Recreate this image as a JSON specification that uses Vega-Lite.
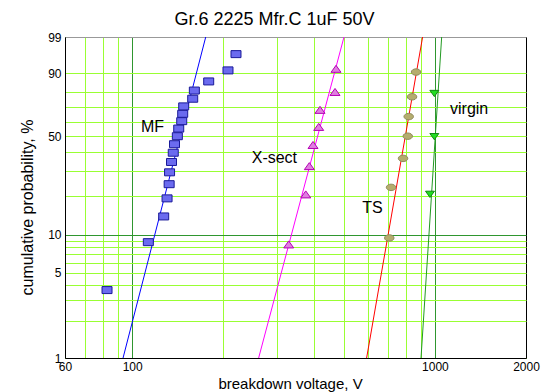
{
  "$schema": "https://vega.github.io/schema/vega-lite/v6.json",
  "width": 461,
  "height": 321,
  "autosize": "none",
  "padding": {"left": 65, "top": 37, "right": 15, "bottom": 34},
  "background": "white",
  "title": {"text": "Gr.6 2225 Mfr.C 1uF 50V", "fontSize": 18, "font": "Liberation Sans", "fontWeight": "normal", "anchor": "middle", "frame": "group", "dx": -21, "offset": -12, "baseline": "alphabetic", "color": "#000000"},
  "config": {"view": {"stroke": "#000000", "strokeWidth": 1}, "font": "Liberation Sans"},
  "datasets": {
    "fits": [
      {"series": "MF", "v": 93.3, "p": 1},
      {"series": "MF", "v": 175.0, "p": 99},
      {"series": "X-sect", "v": 261.7, "p": 1},
      {"series": "X-sect", "v": 501, "p": 99},
      {"series": "TS", "v": 595, "p": 1},
      {"series": "TS", "v": 911, "p": 99},
      {"series": "virgin", "v": 900, "p": 1},
      {"series": "virgin", "v": 1053, "p": 99}
    ],
    "pts": [
      {"series": "MF", "v": 82.6, "p": 3.608},
      {"series": "MF", "v": 113.1, "p": 8.763},
      {"series": "MF", "v": 127.1, "p": 13.918},
      {"series": "MF", "v": 130.4, "p": 19.072},
      {"series": "MF", "v": 132.5, "p": 24.227},
      {"series": "MF", "v": 132.9, "p": 29.381},
      {"series": "MF", "v": 134.9, "p": 34.536},
      {"series": "MF", "v": 136.7, "p": 39.691},
      {"series": "MF", "v": 138.0, "p": 44.845},
      {"series": "MF", "v": 141.0, "p": 50.0},
      {"series": "MF", "v": 142.5, "p": 55.155},
      {"series": "MF", "v": 145.8, "p": 60.309},
      {"series": "MF", "v": 146.9, "p": 65.464},
      {"series": "MF", "v": 148.0, "p": 70.619},
      {"series": "MF", "v": 158.5, "p": 75.773},
      {"series": "MF", "v": 160.5, "p": 80.928},
      {"series": "MF", "v": 179.0, "p": 86.082},
      {"series": "MF", "v": 207.3, "p": 91.237},
      {"series": "MF", "v": 220.3, "p": 96.392},
      {"series": "X-sect", "v": 329, "p": 8.333},
      {"series": "X-sect", "v": 374.5, "p": 20.238},
      {"series": "X-sect", "v": 384.8, "p": 32.143},
      {"series": "X-sect", "v": 395.8, "p": 44.048},
      {"series": "X-sect", "v": 413.3, "p": 55.952},
      {"series": "X-sect", "v": 417.4, "p": 67.857},
      {"series": "X-sect", "v": 467.9, "p": 79.762},
      {"series": "X-sect", "v": 471.5, "p": 91.667},
      {"series": "TS", "v": 707, "p": 9.459},
      {"series": "TS", "v": 716.5, "p": 22.973},
      {"series": "TS", "v": 785, "p": 36.486},
      {"series": "TS", "v": 813.6, "p": 50.0},
      {"series": "TS", "v": 819.6, "p": 63.514},
      {"series": "TS", "v": 840.6, "p": 77.027},
      {"series": "TS", "v": 866.5, "p": 90.541},
      {"series": "virgin", "v": 963.5, "p": 20.588},
      {"series": "virgin", "v": 996, "p": 50.0},
      {"series": "virgin", "v": 996, "p": 79.412}
    ],
    "labels": [
      {"label": "MF", "v": 106.9, "p": 56.4},
      {"label": "X-sect", "v": 248.3, "p": 36.5},
      {"label": "TS", "v": 575.8, "p": 16.05},
      {"label": "virgin", "v": 1122, "p": 68.8}
    ]
  },
  "layer": [
    {
      "data": {"name": "fits"},
      "transform": [{"calculate": "log(-log(1 - datum.p / 100))", "as": "w"}],
      "mark": {"type": "line", "strokeWidth": 1, "clip": true},
      "encoding": {
        "x": {
          "field": "v", "type": "quantitative",
          "scale": {"type": "log", "domain": [60, 2000], "nice": false},
          "axis": {
            "values": [60, 70, 80, 90, 100, 200, 300, 400, 500, 600, 700, 800, 900, 1000, 2000],
            "tickCount": 100,
            "labelExpr": "indexof([60,100,1000,2000], datum.value) >= 0 ? '' + datum.value : ''",
            "labelOverlap": false, "labelFlush": false,
            "labelFontSize": 12, "labelPadding": 3, "labelColor": "#000000",
            "ticks": false, "domainColor": "#000000",
            "grid": true,
            "gridColor": {"condition": [{"test": "datum.value == 100 || datum.value == 1000", "value": "#2f962f"}, {"test": "datum.value == 2000", "value": "#000000"}], "value": "#99ff33"},
            "gridOpacity": 1,
            "title": "breakdown voltage, V", "titleFontSize": 15, "titleFontWeight": "normal",
            "titleX": 225, "titleY": 30, "titleAlign": "center", "titleBaseline": "alphabetic", "titleColor": "#000000"
          }
        },
        "y": {
          "field": "w", "type": "quantitative",
          "scale": {"type": "linear", "domain": [-4.6001, 1.5272], "nice": false, "zero": false},
          "axis": {
            "values": [-4.6001, -3.9019, -3.4912, -3.1985, -2.9702, -2.7826, -2.6232, -2.4843, -2.3612, -2.2504, -1.4999, -1.0309, -0.6717, -0.3665, -0.0874, 0.1856, 0.4759, 0.834, 1.5272],
            "tickCount": 100,
            "labelExpr": "indexof([1,5,10,50,90,99], round(100*(1-exp(-exp(datum.value))))) >= 0 ? '' + round(100*(1-exp(-exp(datum.value)))) : ''",
            "labelOverlap": false, "labelFlush": false,
            "labelFontSize": 12, "labelPadding": 4, "labelColor": "#000000",
            "ticks": false, "domainColor": "#000000",
            "grid": true,
            "gridColor": {"condition": [{"test": "abs(datum.value + 2.2504) < 0.01", "value": "#2f962f"}, {"test": "datum.value > 1.5", "value": "#999999"}], "value": "#99ff33"},
            "gridOpacity": 1,
            "title": "cumulative probability, %", "titleFontSize": 16, "titleFontWeight": "normal",
            "titleX": -33, "titleY": 170, "titleAlign": "center", "titleBaseline": "alphabetic", "titleAngle": 270, "titleColor": "#000000"
          }
        },
        "color": {
          "field": "series", "type": "nominal",
          "scale": {"domain": ["MF", "X-sect", "TS", "virgin"], "range": ["#0000ff", "#ff00ff", "#ff0000", "#229922"]},
          "legend": null
        }
      }
    },
    {
      "data": {"name": "pts"},
      "transform": [{"filter": "datum.series == 'MF'"}, {"calculate": "log(-log(1 - datum.p / 100))", "as": "w"}],
      "mark": {"type": "point", "filled": true, "shape": "M-1,-0.7L1,-0.7L1,0.7L-1,0.7Z", "size": 100, "fill": "#6b6bef", "stroke": "#1a1a99", "strokeWidth": 1, "opacity": 1, "fillOpacity": 1},
      "encoding": {"x": {"field": "v", "type": "quantitative"}, "y": {"field": "w", "type": "quantitative"}}
    },
    {
      "data": {"name": "pts"},
      "transform": [{"filter": "datum.series == 'X-sect'"}, {"calculate": "log(-log(1 - datum.p / 100))", "as": "w"}],
      "mark": {"type": "point", "filled": true, "shape": "M-1,0.6L1,0.6L0,-0.8Z", "size": 100, "fill": "#e07fe0", "stroke": "#b300b3", "strokeWidth": 1, "opacity": 1, "fillOpacity": 1},
      "encoding": {"x": {"field": "v", "type": "quantitative"}, "y": {"field": "w", "type": "quantitative"}}
    },
    {
      "data": {"name": "pts"},
      "transform": [{"filter": "datum.series == 'TS'"}, {"calculate": "log(-log(1 - datum.p / 100))", "as": "w"}],
      "mark": {"type": "point", "filled": true, "shape": "M-1,0A1,0.68,0,1,1,1,0A1,0.68,0,1,1,-1,0Z", "size": 90, "fill": "#b5ad6e", "stroke": "#8f8a5c", "strokeWidth": 1, "opacity": 1, "fillOpacity": 1},
      "encoding": {"x": {"field": "v", "type": "quantitative"}, "y": {"field": "w", "type": "quantitative"}}
    },
    {
      "data": {"name": "pts"},
      "transform": [{"filter": "datum.series == 'virgin'"}, {"calculate": "log(-log(1 - datum.p / 100))", "as": "w"}],
      "mark": {"type": "point", "filled": true, "shape": "M-1,-0.6L1,-0.6L0,0.8Z", "size": 80, "fill": "#22dd22", "stroke": "#118811", "strokeWidth": 1, "opacity": 1, "fillOpacity": 1},
      "encoding": {"x": {"field": "v", "type": "quantitative"}, "y": {"field": "w", "type": "quantitative"}}
    },
    {
      "data": {"name": "labels"},
      "transform": [{"calculate": "log(-log(1 - datum.p / 100))", "as": "w"}],
      "mark": {"type": "text", "align": "left", "baseline": "middle", "fontSize": 16, "font": "Liberation Sans", "color": "#000000"},
      "encoding": {"x": {"field": "v", "type": "quantitative"}, "y": {"field": "w", "type": "quantitative"}, "text": {"field": "label"}}
    }
  ]
}
